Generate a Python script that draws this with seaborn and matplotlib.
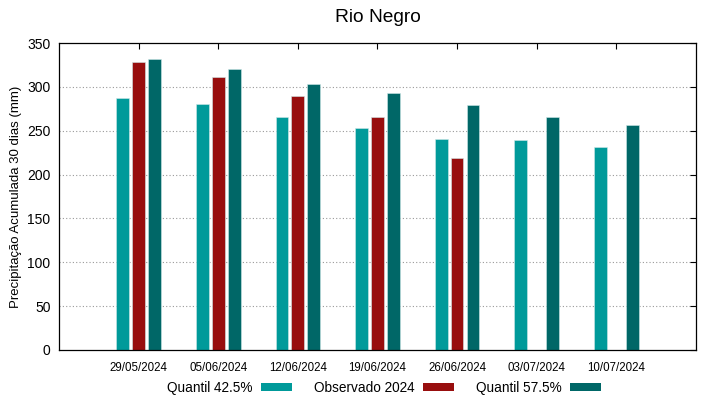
import numpy as np
import pandas as pd
import seaborn as sns
import matplotlib
matplotlib.use('Agg')
import matplotlib.pyplot as plt
from matplotlib.patches import Patch

sns.set_style('white')
plt.rcParams['font.family'] = ['Liberation Sans', 'DejaVu Sans']
plt.rcParams['text.color'] = 'black'
plt.rcParams['axes.labelcolor'] = 'black'

# values
datas = ['29/05/2024', '05/06/2024', '12/06/2024', '19/06/2024',
         '26/06/2024', '03/07/2024', '10/07/2024']
q425 = [287, 280, 266, 253, 241, 239, 231]
obs = [328, 311, 290, 266, 219, np.nan, np.nan]
q575 = [332, 321, 303, 293, 279, 266, 256]
series = ['Quantil 42.5%', 'Observado 2024', 'Quantil 57.5%']
colours = ['#009a9a', '#980e0e', '#006767']

df = pd.DataFrame({'data': datas * 3,
                   'serie': np.repeat(series, len(datas)),
                   'valor': q425 + obs + q575})

fig = plt.figure(figsize=(7.19, 3.99), dpi=100)
ax = fig.add_axes([0.082, 0.123, 0.886, 0.769])

sns.barplot(data=df, x='data', y='valor', hue='serie', hue_order=series,
            order=datas, palette=colours, saturation=1, width=0.6, gap=0.2,
            edgecolor='#cfe8e8', linewidth=0.4, legend=False, ax=ax)

ax.set_xlim(-1, len(datas))
ax.set_ylim(0, 350)
ax.set_yticks(range(0, 351, 50))
for y in range(50, 350, 50):
    ax.axhline(y, color='#999999', lw=0.8, ls=(0, (1, 2)), zorder=0)

for s in ax.spines.values():
    s.set_color('black')
    s.set_linewidth(0.9)
ax.tick_params(axis='both', direction='in', top=True, right=True,
               length=4, width=0.8, colors='black')
ax.tick_params(axis='x', labelsize=8.3, pad=9)
ax.tick_params(axis='y', labelsize=10, pad=6)
ax.set_xlabel('')
ax.set_ylabel('Precipitação Acumulada 30 dias (mm)', fontsize=9.5)
ax.set_title('Rio Negro', fontsize=13.8, pad=15)

handles = [Patch(facecolor=c, edgecolor='none') for c in colours]
fig.legend(handles, series, loc='center', bbox_to_anchor=(0.534, 0.028),
           ncol=3, frameon=False, markerfirst=False, fontsize=9.8,
           handlelength=2.3, handleheight=0.45, columnspacing=1.6,
           handletextpad=0.6, borderpad=0.1)

fig.savefig('out.png', dpi=100)
